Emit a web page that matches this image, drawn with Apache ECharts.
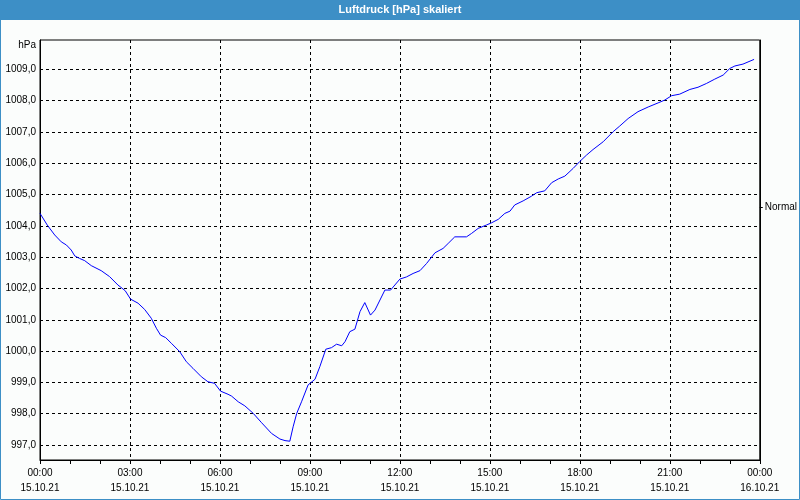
<!DOCTYPE html>
<html>
<head>
<meta charset="utf-8">
<script src="https://cdn.jsdelivr.net/npm/echarts@6/dist/echarts.min.js"></script>
<style>
html,body{margin:0;padding:0;background:#fbfdfc;}
#chart{width:800px;height:500px;}
</style>
</head>
<body>
<div id="chart"></div>
<script>
// ---- data ----
var titleText = 'Luftdruck [hPa] skaliert';
var unitLabel = 'hPa';
var normalLabel = 'Normal';
var normalLevel = 1004.6;
var hours = [0.0,0.24,0.49,0.71,0.88,1.04,1.16,1.32,1.49,1.71,2.04,2.32,2.6,2.84,3.02,3.27,3.49,3.71,3.88,4.02,4.19,4.38,4.66,4.88,5.1,5.38,5.6,5.82,6.02,6.27,6.39,6.61,6.83,7.11,7.39,7.72,8.0,8.17,8.33,8.44,8.56,8.72,8.94,9.17,9.33,9.53,9.72,9.89,10.06,10.17,10.33,10.5,10.67,10.83,11.02,11.17,11.5,11.69,12.0,12.22,12.44,12.67,12.89,13.17,13.44,13.61,13.83,14.22,14.39,14.61,14.89,15.06,15.28,15.5,15.67,15.83,16.11,16.39,16.56,16.83,17.06,17.28,17.5,17.78,18.0,18.22,18.44,18.78,19.11,19.33,19.61,19.94,20.28,20.61,20.83,21.06,21.33,21.67,21.94,22.22,22.5,22.78,23.0,23.17,23.44,23.81];
var pressure = [1004.40,1004.03,1003.71,1003.49,1003.39,1003.23,1003.04,1002.96,1002.89,1002.73,1002.57,1002.38,1002.11,1001.93,1001.66,1001.53,1001.33,1001.05,1000.73,1000.51,1000.43,1000.25,999.98,999.66,999.45,999.18,999.02,998.97,998.72,998.62,998.56,998.38,998.25,998.01,997.71,997.37,997.19,997.14,997.12,997.58,998.01,998.38,998.92,999.10,999.50,1000.06,1000.11,1000.22,1000.17,1000.30,1000.62,1000.70,1001.26,1001.55,1001.15,1001.31,1001.95,1001.95,1002.30,1002.37,1002.48,1002.57,1002.80,1003.14,1003.28,1003.44,1003.65,1003.65,1003.76,1003.92,1004.03,1004.10,1004.21,1004.40,1004.47,1004.67,1004.80,1004.95,1005.06,1005.12,1005.38,1005.50,1005.59,1005.84,1006.06,1006.26,1006.44,1006.69,1007.01,1007.19,1007.43,1007.65,1007.80,1007.93,1008.02,1008.16,1008.21,1008.36,1008.43,1008.55,1008.69,1008.82,1009.03,1009.11,1009.17,1009.32];
var yTicks = [997,998,999,1000,1001,1002,1003,1004,1005,1006,1007,1008,1009];
var xTickLabels = ['00:00\n15.10.21','03:00\n15.10.21','06:00\n15.10.21','09:00\n15.10.21','12:00\n15.10.21','15:00\n15.10.21','18:00\n15.10.21','21:00\n15.10.21','00:00\n16.10.21'];

var seriesData = hours.map(function(h,i){return [h, pressure[i]];});
var FONT = 'Liberation Sans';
var dash = {color:'#000', width:1, type:[3,3]};

var chart = echarts.init(document.getElementById('chart'), null, {renderer:'canvas'});
chart.setOption({
  animation:false,
  backgroundColor:'#fbfdfc',
  graphic:[
    {type:'rect', shape:{x:0,y:0,width:800,height:20}, style:{fill:'#3d8fc6'}, z:0},
    {type:'rect', shape:{x:0.5,y:0.5,width:799,height:499}, style:{fill:null, stroke:'#3d8fc6', lineWidth:1}, z:0},
    {type:'text', x:400, y:10, style:{text:titleText, fill:'#fff', font:'bold 11px "Liberation Sans"', textAlign:'center', textVerticalAlign:'middle'}, z:1},
    {type:'text', x:36, y:45, style:{text:unitLabel, fill:'#000', font:'10px "Liberation Sans"', textAlign:'right', textVerticalAlign:'middle'}, z:1}
  ],
  grid:{left:40,right:40,top:40,bottom:40, show:true, borderColor:'#000', borderWidth:1, backgroundColor:'#fbfdfc'},
  xAxis:{
    type:'value', min:0, max:24, interval:3,
    axisLine:{show:true, onZero:false, lineStyle:{color:'#000', width:1}},
    axisTick:{show:true, length:4, lineStyle:{color:'#000'}},
    minorTick:{show:true, splitNumber:3, length:4, lineStyle:{color:'#000'}},
    splitLine:{show:true, lineStyle:dash},
    axisLabel:{
      color:'#000', fontFamily:FONT, fontSize:10, lineHeight:15, margin:6,
      formatter:function(v){return xTickLabels[Math.round(v/3)] || '';}
    }
  },
  yAxis:[{
    type:'value', min:996.52, max:1009.94,
    axisLine:{show:true, lineStyle:{color:'#000'}},
    axisTick:{show:true, length:0, customValues:yTicks},
    splitLine:{show:true, lineStyle:dash},
    axisLabel:{
      color:'#000', fontFamily:FONT, fontSize:10, margin:4, customValues:yTicks,
      formatter:function(v){return v.toFixed(1).replace('.', ',');}
    }
  },{
    type:'value', min:996.52, max:1009.94, position:'right',
    axisLine:{show:true, lineStyle:{color:'#000'}},
    axisTick:{show:true, length:3, customValues:[normalLevel], lineStyle:{color:'#000'}},
    splitLine:{show:false},
    axisLabel:{
      color:'#000', fontFamily:FONT, fontSize:10, margin:5, customValues:[normalLevel],
      formatter:function(){return normalLabel;}
    }
  }],
  series:[{
    type:'line', data:seriesData, showSymbol:false, symbol:'none',
    lineStyle:{color:'#0000ff', width:1}, itemStyle:{color:'#0000ff'},
    silent:true
  }]
});
</script>
</body>
</html>
